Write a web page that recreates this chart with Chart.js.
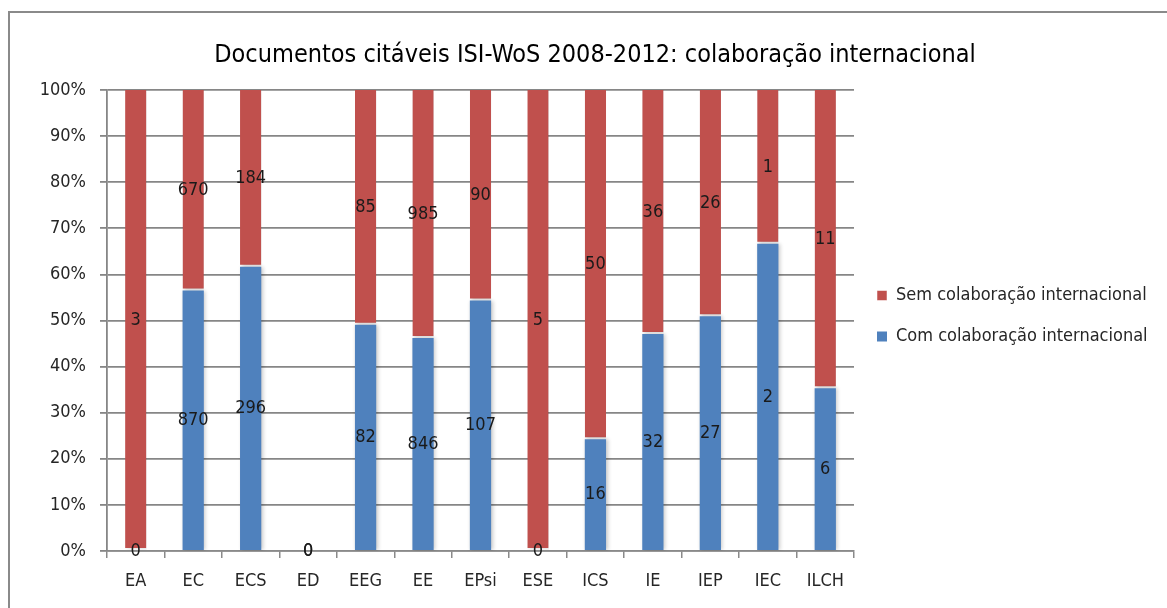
<!DOCTYPE html>
<html>
<head>
<meta charset="utf-8">
<script src="https://cdn.jsdelivr.net/npm/chart.js@4.4.1/dist/chart.umd.min.js"></script>
<style>
  body { margin: 0; background: #fff; }
  #frame {
    position: absolute; left: 8px; top: 11px; width: 1200px; height: 700px;
    border: 2px solid #8a8a8a; box-sizing: border-box;
  }
  #wrap { position: absolute; left: 0; top: 0; width: 1167px; height: 608px; }
</style>
</head>
<body>
<div id="frame"></div>
<div id="wrap"><canvas id="myChart" width="1167" height="608"></canvas></div>
<script>
const categories = ["EA", "EC", "ECS", "ED", "EEG", "EE", "EPsi", "ESE", "ICS", "IE", "IEP", "IEC", "ILCH"];
const comColab = [0, 870, 296, 0, 82, 846, 107, 0, 16, 32, 27, 2, 6];
const semColab = [3, 670, 184, 0, 85, 985, 90, 5, 50, 36, 26, 1, 11];
const yTicks = [0, 10, 20, 30, 40, 50, 60, 70, 80, 90, 100];

const FONT = "'DejaVu Sans Condensed', 'Liberation Sans Narrow', sans-serif";

function share(part, other) {
  return part.map((v, i) => {
    const total = v + other[i];
    return total ? (v / total) * 100 : 0;
  });
}

// draws the raw counts in the middle of every bar segment
const countLabels = {
  id: "countLabels",
  afterDatasetsDraw(chart) {
    const ctx = chart.ctx;
    ctx.save();
    ctx.font = "18px " + FONT;
    ctx.fillStyle = "#1a1a1a";
    ctx.textAlign = "center";
    ctx.textBaseline = "middle";
    chart.data.datasets.forEach((ds, di) => {
      const meta = chart.getDatasetMeta(di);
      meta.data.forEach((bar, i) => {
        const y = (bar.y + bar.base) / 2;
        ctx.fillText(String(ds.counts[i]), bar.x, y);
      });
    });
    ctx.restore();
  },
};

const barShadow = {
  id: "barShadow",
  beforeDatasetsDraw(chart) {
    const ctx = chart.ctx;
    ctx.save();
    ctx.shadowColor = "rgba(0,0,0,0.22)";
    ctx.shadowBlur = 4;
    ctx.shadowOffsetX = 1.5;
    ctx.shadowOffsetY = 0;
  },
  afterDatasetsDraw(chart) {
    chart.ctx.restore();
  },
};

const ctx = document.getElementById("myChart").getContext("2d");
window.myChart = new Chart(ctx, {
  type: "bar",
  data: {
    labels: categories,
    datasets: [
      {
        label: "Com colaboração internacional",
        data: share(comColab, semColab),
        counts: comColab,
        backgroundColor: "#4f81bd",
        borderWidth: 0,
      },
      {
        label: "Sem colaboração internacional",
        data: share(semColab, comColab),
        counts: semColab,
        backgroundColor: "#c0504d",
        borderColor: "#ffffff",
        borderWidth: { bottom: 2, top: 0, left: 0, right: 0 },
        borderSkipped: false,
      },
    ],
  },
  options: {
    responsive: false,
    animation: false,
    devicePixelRatio: 1,
    layout: { padding: { top: 24, left: 36, right: 13, bottom: 0 } },
    datasets: { bar: { categoryPercentage: 1, barPercentage: 0.37 } },
    scales: {
      x: {
        stacked: true,
        afterFit(scale) {
          scale.height = 57;
        },
        grid: { offset: true, drawOnChartArea: false, tickLength: 7, color: "#8a8a8a", lineWidth: 1.5 },
        border: { color: "#8a8a8a", width: 1.5 },
        ticks: { font: { family: FONT, size: 18 }, color: "#262626", padding: 13, maxRotation: 0 },
      },
      y: {
        stacked: true,
        min: 0,
        max: 100,
        afterBuildTicks(scale) {
          scale.ticks = yTicks.map((v) => ({ value: v }));
        },
        afterFit(scale) {
          scale.width = 71;
        },
        grid: { color: "#868686", lineWidth: 1.8, tickLength: 7 },
        border: { color: "#868686", width: 1.8 },
        ticks: {
          font: { family: FONT, size: 18 },
          color: "#262626",
          padding: 14,
          callback: (v) => v + "%",
        },
      },
    },
    plugins: {
      title: {
        display: true,
        text: "Documentos citáveis ISI-WoS 2008-2012: colaboração internacional",
        font: { family: FONT, size: 25, weight: "normal" },
        color: "#000",
        padding: { top: 16, bottom: 20 },
      },
      legend: {
        position: "right",
        reverse: true,
        maxWidth: 300,
        labels: {
          font: { family: FONT, size: 18 },
          color: "#262626",
          boxWidth: 10,
          boxHeight: 10,
          padding: 23,
        },
      },
      tooltip: { enabled: false },
    },
  },
  plugins: [barShadow, countLabels],
});
</script>
</body>
</html>
